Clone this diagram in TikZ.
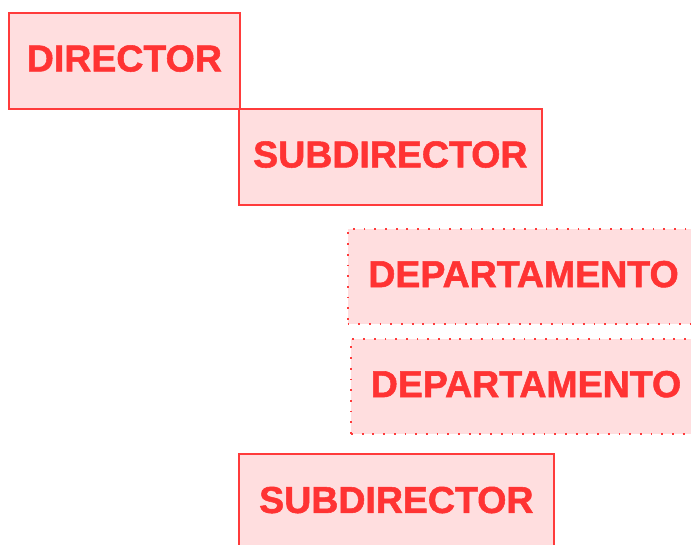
\documentclass[tikz,border=0pt]{standalone}
\usepackage{fontspec}
\setmainfont{Liberation Sans}
\newfontfamily\heavyfont[FakeBold=1.4]{Liberation Sans Bold}
\definecolor{boxred}{HTML}{FF3B3B}
\definecolor{boxfill}{HTML}{FFDEDF}
\definecolor{txtred}{HTML}{FF3333}
\begin{document}
\begin{tikzpicture}[x=1pt,y=-1pt,
  orgbox/.style={draw=boxred, fill=boxfill, line width=1.7pt, anchor=north west,
    inner sep=0pt, text=txtred, text depth=5pt, font=\fontsize{37.5}{40}\heavyfont},
  dotbox/.style={orgbox, line width=2pt, dash pattern=on 1.8pt off 8.9pt}]
\useasboundingbox (0,0) rectangle (691,545);
\clip (0,0) rectangle (691,545);
\node[orgbox, minimum width=231, minimum height=96] (dir) at (8,12) {DIRECTOR};
\node[orgbox, minimum width=303, minimum height=96] (sub1) at (238,108) {SUBDIRECTOR};
\node[dotbox, minimum width=352, minimum height=95] (dep1) at (346.5,228) {DEPARTAMENTO};
\node[dotbox, minimum width=350, minimum height=95] (dep2) at (350,338) {DEPARTAMENTO};
\node[orgbox, minimum width=315, minimum height=97] (sub2) at (238,453) {SUBDIRECTOR};
\end{tikzpicture}
\end{document}
